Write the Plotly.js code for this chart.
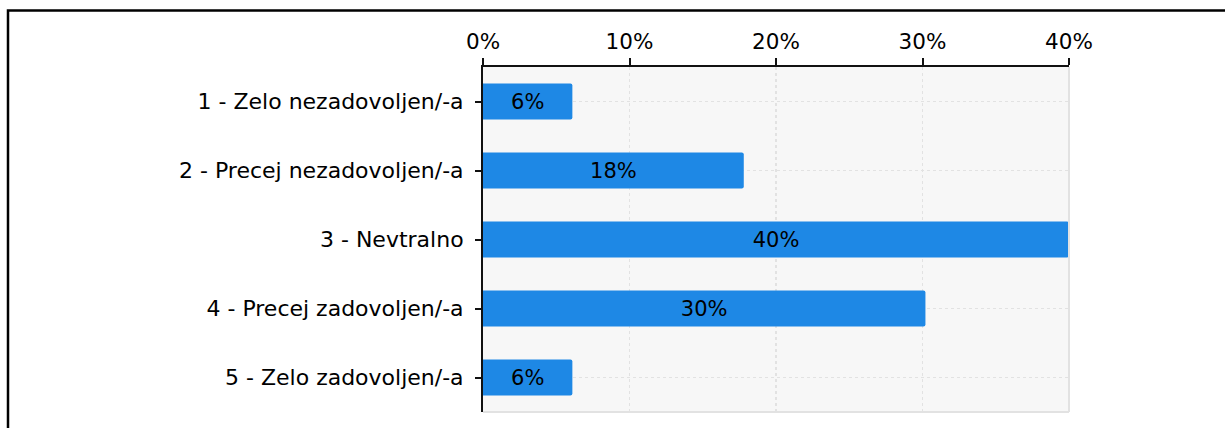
<!DOCTYPE html>
<html>
<head>
<meta charset="utf-8">
<script src="https://cdn.plot.ly/plotly-3.0.1.min.js"></script>
<style>
html, body { margin: 0; padding: 0; background: #fff; }
#chart { width: 1225px; height: 428px; }
</style>
</head>
<body>
<div id="chart"></div>
<script>
const categories = [
  "1 - Zelo nezadovoljen/-a",
  "2 - Precej nezadovoljen/-a",
  "3 - Nevtralno",
  "4 - Precej zadovoljen/-a",
  "5 - Zelo zadovoljen/-a"
];
const percentages = [6.1, 17.8, 40, 30.2, 6.1];
const tickValues = [0, 10, 20, 30, 40];
const tickLabels = ["0%", "10%", "20%", "30%", "40%"];

const W = 1225, H = 428;
const M = { l: 483, r: 156, t: 67, b: 16 };
const pw = W - M.l - M.r, ph = H - M.t - M.b;
const px = v => (v - M.l) / pw;          // pixel -> paper x
const py = v => (H - M.b - v) / ph;      // pixel -> paper y

const trace = {
  type: "bar",
  orientation: "h",
  y: categories,
  x: percentages,
  marker: { color: "#1e88e5", line: { width: 0 } },
  texttemplate: "%{x:.0f}%",
  textposition: "inside",
  insidetextanchor: "middle",
  textangle: 0,
  constraintext: "none",
  textfont: { family: "DejaVu Sans", size: 21, color: "#000" },
  hoverinfo: "skip",
  width: 0.52
};

const layout = {
  width: W, height: H,
  margin: M,
  paper_bgcolor: "#ffffff",
  plot_bgcolor: "#f7f7f7",
  showlegend: false,
  barcornerradius: 2,
  font: { family: "DejaVu Sans", size: 21, color: "#000" },
  xaxis: {
    side: "top",
    range: [0, 40],
    tickvals: tickValues,
    ticktext: tickLabels,
    ticks: "outside", ticklen: 7, tickwidth: 2, tickcolor: "#111",
    showline: true, linecolor: "#111", linewidth: 2,
    showgrid: true, gridcolor: "#e2e2e2", griddash: "dot", gridwidth: 1.5,
    zeroline: false,
    tickfont: { family: "DejaVu Sans", size: 21.5, color: "#000" },
    fixedrange: true
  },
  yaxis: {
    autorange: "reversed",
    type: "category",
    ticks: "outside", ticklen: 6, tickwidth: 2, tickcolor: "#111",
    showline: true, linecolor: "#111", linewidth: 2,
    showgrid: true, gridcolor: "#e2e2e2", griddash: "dot", gridwidth: 1.5,
    tickfont: { family: "DejaVu Sans", size: 22, color: "#000" },
    ticksuffix: " ",
    fixedrange: true
  },
  shapes: [
    { type: "rect", xref: "paper", yref: "paper",
      x0: px(8), x1: px(1228), y0: py(440), y1: py(10.5),
      line: { color: "#000", width: 2.5 }, fillcolor: "rgba(0,0,0,0)", layer: "above" },
    { type: "line", xref: "paper", yref: "paper",
      x0: 1, x1: 1, y0: 0, y1: 1,
      line: { color: "#e2e2e2", width: 2 } },
    { type: "line", xref: "paper", yref: "paper",
      x0: 0, x1: 1, y0: 0, y1: 0,
      line: { color: "#e2e2e2", width: 2 } }
  ]
};

Plotly.newPlot("chart", [trace], layout, { staticPlot: true, displayModeBar: false });
</script>
</body>
</html>
